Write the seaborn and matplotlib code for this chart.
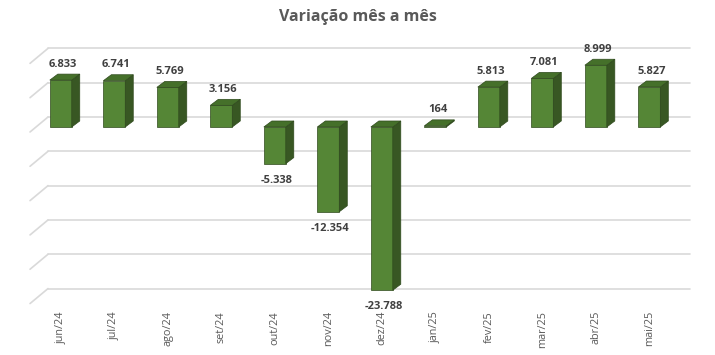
import matplotlib
matplotlib.use("Agg")
import matplotlib.pyplot as plt
import matplotlib.transforms as mtransforms
from matplotlib.patches import Polygon
import seaborn as sns

# Monthly variation data
months = ["jun/24", "jul/24", "ago/24", "set/24", "out/24", "nov/24",
          "dez/24", "jan/25", "fev/25", "mar/25", "abr/25", "mai/25"]
values = [6833, 6741, 5769, 3156, -5338, -12354,
          -23788, 164, 5813, 7081, 8999, 5827]
grid_levels = [10000, 5000, 0, -5000, -10000, -15000, -20000, -25000]

front_col = "#558636"
side_col = "#385723"
top_col = "#45702a"
edge_col = "#2f4a1d"

sns.set_style("white")
plt.rcParams["font.family"] = ["Open Sans", "DejaVu Sans"]

fig = plt.figure(figsize=(7.15, 3.55), dpi=100)
ax = fig.add_axes([0.0476, 0.159, 0.898, 0.6766])

sns.barplot(x=months, y=values, color=front_col, saturation=1, width=0.41,
            edgecolor=edge_col, linewidth=0.5, ax=ax, zorder=3)
ax.set_xlim(-0.5, len(months) - 0.5)
ax.set_ylim(-25000, 10000)
sns.despine(ax=ax, left=True, bottom=True, top=True, right=True)
ax.set_yticks([])
ax.set_ylabel("")
ax.set_xlabel("")
ax.tick_params(axis="x", length=0, pad=9, labelsize=7.8, labelcolor="#595959")
plt.setp(ax.get_xticklabels(), rotation=90, va="top", ha="center")

# back wall gridlines with a bit of perspective
wall = mtransforms.offset_copy(ax.transData, fig=fig, x=14, y=10, units="dots")
for lvl in grid_levels:
    ax.plot([-0.5, len(months) - 0.5], [lvl, lvl], transform=wall,
            color="#d9d9d9", lw=1.2, zorder=1, clip_on=False)
    p0 = ax.transData.transform((-0.5, lvl)) + [-4, -5]
    p1 = ax.transData.transform((-0.5, lvl)) + [14, 10]
    ax.plot([p0[0], p1[0]], [p0[1], p1[1]], transform=None,
            color="#d9d9d9", lw=1.2, zorder=1, clip_on=False)

# depth faces for the bars
fig.canvas.draw()
o = ax.transData.transform((0, 0))
dx = 8 / (ax.transData.transform((1, 0))[0] - o[0])
dy = 6 / (ax.transData.transform((0, 1000))[1] - o[1]) * 1000

for bar, v in zip(ax.patches, values):
    x0 = bar.get_x()
    x1 = x0 + bar.get_width()
    lo, hi = min(0, v), max(0, v)
    side = Polygon([(x1, lo), (x1 + dx, lo + dy), (x1 + dx, hi + dy), (x1, hi)],
                   closed=True, facecolor=side_col, edgecolor=edge_col, lw=0.5, zorder=3)
    top = Polygon([(x0, hi), (x0 + dx, hi + dy), (x1 + dx, hi + dy), (x1, hi)],
                  closed=True, facecolor=top_col, edgecolor=edge_col, lw=0.5, zorder=3)
    ax.add_patch(side)
    ax.add_patch(top)
    label = f"{v:,}".replace(",", ".")
    cx = x0 + bar.get_width() / 2
    if v >= 0:
        ax.annotate(label, (cx, hi), xytext=(1.5, 11.5), textcoords="offset points",
                    ha="center", va="center", fontsize=8, fontweight="bold",
                    color="#404040", zorder=5)
    else:
        ax.annotate(label, (cx, lo), xytext=(1.5, -12), textcoords="offset points",
                    ha="center", va="center", fontsize=8, fontweight="bold",
                    color="#404040", zorder=5)

fig.text(0.5, 0.952, "Variação mês a mês", ha="center", va="center",
         fontsize=11.5, fontweight="bold", color="#595959")

fig.savefig("out.png", dpi=100)
